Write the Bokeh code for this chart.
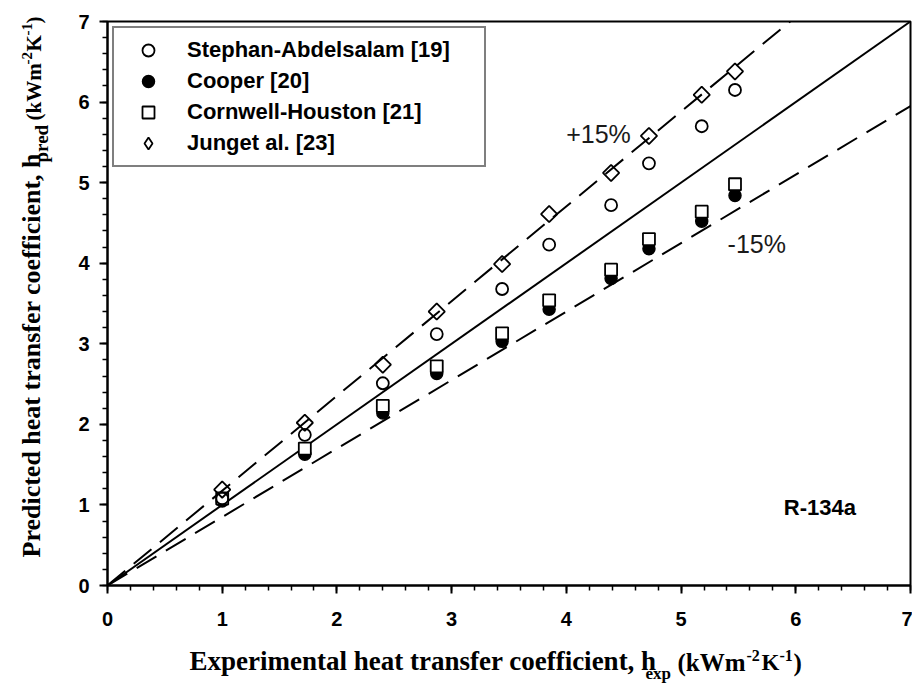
import math
from bokeh.plotting import figure
from bokeh.layouts import row, column
from bokeh.models import Label, Legend, LegendItem, Range1d, SingleIntervalTicker
from bokeh.core.properties import value
from bokeh.embed import file_html
from bokeh.resources import INLINE

# ---------------- data ----------------
h_exp = [1.00, 1.72, 2.40, 2.87, 3.44, 3.85, 4.39, 4.72, 5.18, 5.47]
stephan = [1.08, 1.87, 2.51, 3.12, 3.68, 4.23, 4.72, 5.24, 5.70, 6.15]
cooper = [1.05, 1.63, 2.14, 2.63, 3.03, 3.43, 3.81, 4.18, 4.52, 4.84]
cornwell = [1.08, 1.70, 2.23, 2.72, 3.13, 3.54, 3.92, 4.30, 4.64, 4.98]
jung = [1.19, 2.02, 2.74, 3.40, 3.99, 4.61, 5.12, 5.58, 6.09, 6.38]
series_names = ["Stephan-Abdelsalam [19]", "Cooper [20]",
                "Cornwell-Houston [21]", "Junget al. [23]"]
ref_x = [0.0, 7.0]
upper_factor = 1 / 0.85
lower_factor = 0.85
axis_min, axis_max = 0, 7

LEFT_W = 55
MAIN_W, MAIN_H = 857, 637
BOT_H = 50
BL, BR = 52, 2          # main figure side borders -> frame spans page x 107..910
FRAME_L, FRAME_R = LEFT_W + BL, LEFT_W + MAIN_W - BR

# ---------------- main figure ----------------
p = figure(width=MAIN_W, height=MAIN_H, output_backend="svg", toolbar_location=None,
           x_range=Range1d(axis_min, axis_max), y_range=Range1d(axis_min, axis_max),
           min_border_left=BL, min_border_right=BR, min_border_top=21,
           min_border_bottom=52)
p.background_fill_color = "white"
p.border_fill_color = "white"
p.outline_line_color = "black"
p.outline_line_width = 2
p.grid.visible = False

for ax in (p.xaxis[0], p.yaxis[0]):
    ax.ticker = SingleIntervalTicker(interval=1, num_minor_ticks=5)
    ax.axis_line_width = 2
    ax.axis_line_color = "black"
    ax.major_tick_line_width = 2
    ax.minor_tick_line_width = 1.5
    ax.major_tick_in = 0
    ax.major_tick_out = 8
    ax.minor_tick_in = 0
    ax.minor_tick_out = 5
    ax.major_label_text_font = "Liberation Sans"
    ax.major_label_text_font_style = "bold"
    ax.major_label_text_font_size = "20px"
    ax.major_label_text_color = "black"
p.xaxis.major_label_standoff = 18
p.yaxis.major_label_standoff = 10

# reference lines
p.line(ref_x, ref_x, line_color="black", line_width=2)
p.line(ref_x, [v * upper_factor for v in ref_x], line_color="black",
       line_width=2, line_dash="23 11")
p.line(ref_x, [v * lower_factor for v in ref_x], line_color="black",
       line_width=2, line_dash="23 11")

# markers
r_cooper = p.scatter(h_exp, cooper, marker="circle", size=12,
                     fill_color="black", line_color="black", line_width=1.5)
r_corn = p.scatter(h_exp, cornwell, marker="square", size=12,
                   fill_color="white", line_color="black", line_width=1.8)
r_steph = p.scatter(h_exp, stephan, marker="circle", size=12,
                    fill_color=None, line_color="black", line_width=1.8)
r_jung = p.scatter(h_exp, jung, marker="square", size=11.5, angle=math.pi / 4,
                   fill_color=None, line_color="black", line_width=1.8)
# diamond-shaped stand-in used only for the legend swatch
r_jung_leg = p.scatter(h_exp, jung, marker="diamond", size=16,
                       fill_color=None, line_color="black", line_width=1.8,
                       visible=False)

legend = Legend(items=[
    LegendItem(label=series_names[0], renderers=[r_steph]),
    LegendItem(label=series_names[1], renderers=[r_cooper]),
    LegendItem(label=series_names[2], renderers=[r_corn]),
    LegendItem(label=series_names[3], renderers=[r_jung_leg]),
], location="top_left")
legend.margin = 5
legend.padding = 7
legend.spacing = 1
legend.glyph_width = 54
legend.glyph_height = 30
legend.label_height = 30
legend.label_width = 290
legend.label_standoff = 12
legend.label_text_font = "Liberation Sans"
legend.label_text_font_style = "bold"
legend.label_text_font_size = "22px"
legend.label_text_color = "black"
legend.border_line_color = "black"
legend.border_line_width = 2
legend.background_fill_color = "white"
legend.background_fill_alpha = 1
legend.inactive_fill_alpha = 0
legend.click_policy = "none"
p.add_layout(legend, "center")

# in-plot annotations
p.add_layout(Label(x=4.28, y=5.60, text="+15%", text_align="center",
                   text_baseline="middle", text_font="Liberation Sans",
                   text_font_size="25px", text_color="#1a1a1a"))
p.add_layout(Label(x=5.66, y=4.24, text="-15%", text_align="center",
                   text_baseline="middle", text_font="Liberation Sans",
                   text_font_size="25px", text_color="#1a1a1a"))
p.add_layout(Label(x=6.21, y=0.97, text="R-134a", text_align="center",
                   text_baseline="middle", text_font="Liberation Sans",
                   text_font_style="bold", text_font_size="22px",
                   text_color="black"))

# ---------------- axis titles with sub/superscripts ----------------
BASE_FIX = 0.38   # empirical baseline correction (fraction of font size)


def blank_fig(w, h, xr, yr, bl=0, br=0):
    f = figure(width=w, height=h, output_backend="svg", toolbar_location=None,
               x_range=Range1d(*xr), y_range=Range1d(*yr),
               x_axis_type=None, y_axis_type=None,
               min_border_left=bl, min_border_right=br, min_border_top=0,
               min_border_bottom=0)
    f.outline_line_color = None
    f.grid.visible = False
    f.background_fill_color = "white"
    f.border_fill_color = "white"
    return f


def place_title(f, pieces, base, vertical):
    # pieces: (text, start position along the reading direction, size, baseline shift)
    for txt, pos, size, shift in pieces:
        b = base + shift - BASE_FIX * size
        if vertical:
            tx, ty, ang = b, pos, math.pi / 2
        else:
            tx, ty, ang = pos, b, 0
        f.text(x=[tx], y=[ty], text=[txt], angle=ang, text_align="left",
               text_baseline="alphabetic",
               text_font=value("Liberation Serif"), text_font_style="bold",
               text_font_size=f"{size}px", text_color="black")


# reading-direction start (page px), font size, baseline shift (+ = subscript)
x_title = [("Experimental heat transfer coefficient, h", 189, 27, 0),
           ("exp", 645, 17, 8),
           ("(kWm", 677, 25, 0),
           ("-2", 746, 16, -10),
           ("K", 761, 23, 0),
           ("-1", 779, 16, -10),
           (")", 793, 25, 0)]
y_title = [("Predicted heat transfer coefficient, h", 557, 26, 0),
           ("pred", 162, 19, 7),
           ("(kWm", 120, 21, 0),
           ("-2", 64, 15, -9),
           ("K", 51, 21, 0),
           ("-1", 35, 15, -9),
           (")", 23, 21, 0)]

# bottom strip: its frame shares the main frame's horizontal extent; data == page px
bot = blank_fig(MAIN_W, BOT_H, (FRAME_L, FRAME_R), (MAIN_H + BOT_H, MAIN_H), BL, BR)
place_title(bot, x_title, base=671, vertical=False)

# left strip: data coords == page pixels
left = blank_fig(LEFT_W, MAIN_H + BOT_H, (0, LEFT_W), (MAIN_H + BOT_H, 0))
place_title(left, y_title, base=41, vertical=True)

layout = row(left, column(p, bot, spacing=0), spacing=0)
open("out.html", "w").write(file_html(layout, INLINE))
